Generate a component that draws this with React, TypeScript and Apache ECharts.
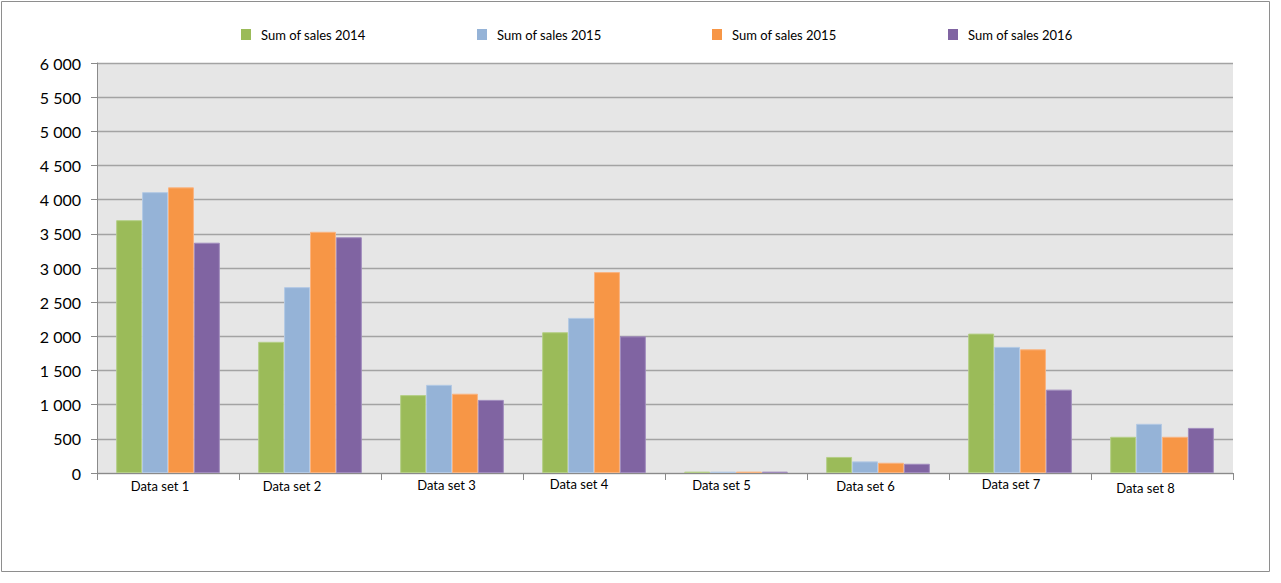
import React, { useEffect, useRef } from "react";
import * as echarts from "echarts";

const categories = ["Data set 1", "Data set 2", "Data set 3", "Data set 4", "Data set 5", "Data set 6", "Data set 7", "Data set 8"];
const seriesNames = ["Sum of sales 2014", "Sum of sales 2015", "Sum of sales 2015", "Sum of sales 2016"];
const sales2014 = [3700, 1920, 1140, 2060, 20, 235, 2040, 530];
const sales2015a = [4110, 2720, 1290, 2270, 20, 170, 1845, 720];
const sales2015b = [4180, 3530, 1160, 2940, 20, 150, 1810, 530];
const sales2016 = [3370, 3450, 1070, 2000, 20, 135, 1220, 660];

const colors = ["#9bbb59", "#95b3d7", "#f79646", "#8064a2"];
const borders = ["#b5cf86", "#b3c9e4", "#fab37f", "#a08bbd"];

// per-label nudges seen in the reference (padding top / right)
const labelPadTop = [5, 4, 2, 1, 2, 4, 0, 8];
const labelPadRight = [16, 36, 11, 30, 29, 25, 18, 33];

const legendPos = [
  { left: 236, top: 23, pad: [3, 0, 0, 5] },
  { left: 472, top: 23, pad: [2, 0, 0, 5] },
  { left: 707, top: 23, pad: [0, 0, 3, 5] },
  { left: 943, top: 23, pad: [2, 0, 0, 5] },
];

const FONT = "Lato, 'Liberation Sans', sans-serif";

export default function App() {
  const ref = useRef<HTMLDivElement>(null);
  useEffect(() => {
    document.body.style.margin = "0";
    if (!ref.current) return;
    const chart = echarts.init(ref.current, undefined, { renderer: "svg" });
    const data = [sales2014, sales2015a, sales2015b, sales2016];
    const rich: Record<string, any> = {};
    categories.forEach((_, i) => {
      rich["l" + i] = {
        fontFamily: FONT,
        fontSize: 13,
        color: "#000",
        lineHeight: 15,
        padding: [labelPadTop[i], labelPadRight[i], 0, 0],
      };
    });
    chart.setOption({
      animation: false,
      backgroundColor: "#ffffff",
      textStyle: { fontFamily: FONT },
      graphic: [
        {
          type: "rect",
          shape: { x: 1.5, y: 1.5, width: 1268, height: 570 },
          style: { fill: "none", stroke: "#8e8e8e", lineWidth: 1 },
          silent: true,
        },
      ],
      legend: legendPos.map((p, i) => ({
        left: p.left,
        top: p.top,
        itemWidth: 10,
        itemHeight: 11,
        icon: "rect",
        selectedMode: false,
        textStyle: { fontFamily: FONT, fontSize: 13, color: "#000", padding: p.pad },
        data: [{ name: seriesNames[i], itemStyle: { color: colors[i], borderWidth: 0 } }],
      })),
      grid: {
        left: 97,
        right: 48,
        top: 63,
        bottom: 110,
        show: true,
        backgroundColor: "#e6e6e6",
        borderWidth: 0,
      },
      xAxis: {
        type: "category",
        data: categories,
        axisLine: { show: true, lineStyle: { color: "#8a8a8a", width: 1 } },
        axisTick: { show: true, length: 7, lineStyle: { color: "#8a8a8a" } },
        axisLabel: {
          interval: 0,
          margin: 3,
          formatter: (v: string, idx: number) => `{l${idx}|${v}}`,
          rich,
        },
      },
      yAxis: {
        type: "value",
        min: 0,
        max: 6000,
        interval: 500,
        axisLine: { show: true, lineStyle: { color: "#8a8a8a", width: 1 } },
        axisTick: { show: true, length: 6, lineStyle: { color: "#8a8a8a" } },
        axisLabel: {
          margin: 16,
          fontFamily: FONT,
          fontSize: 16,
          color: "#000",
          formatter: (v: number) => String(v).replace(/\B(?=(\d{3})+(?!\d))/g, " "),
        },
        splitLine: { show: true, lineStyle: { color: "#a3a3a3", width: 1.3 } },
      },
      series: data.map((d, i) => ({
        type: "bar",
        name: seriesNames[i],
        data: d,
        barGap: "0%",
        barCategoryGap: "27%",
        itemStyle: { color: colors[i], borderColor: borders[i], borderWidth: 1 },
      })),
    });
    return () => chart.dispose();
  }, []);
  return <div ref={ref} style={{ width: 1281, height: 583 }} />;
}
